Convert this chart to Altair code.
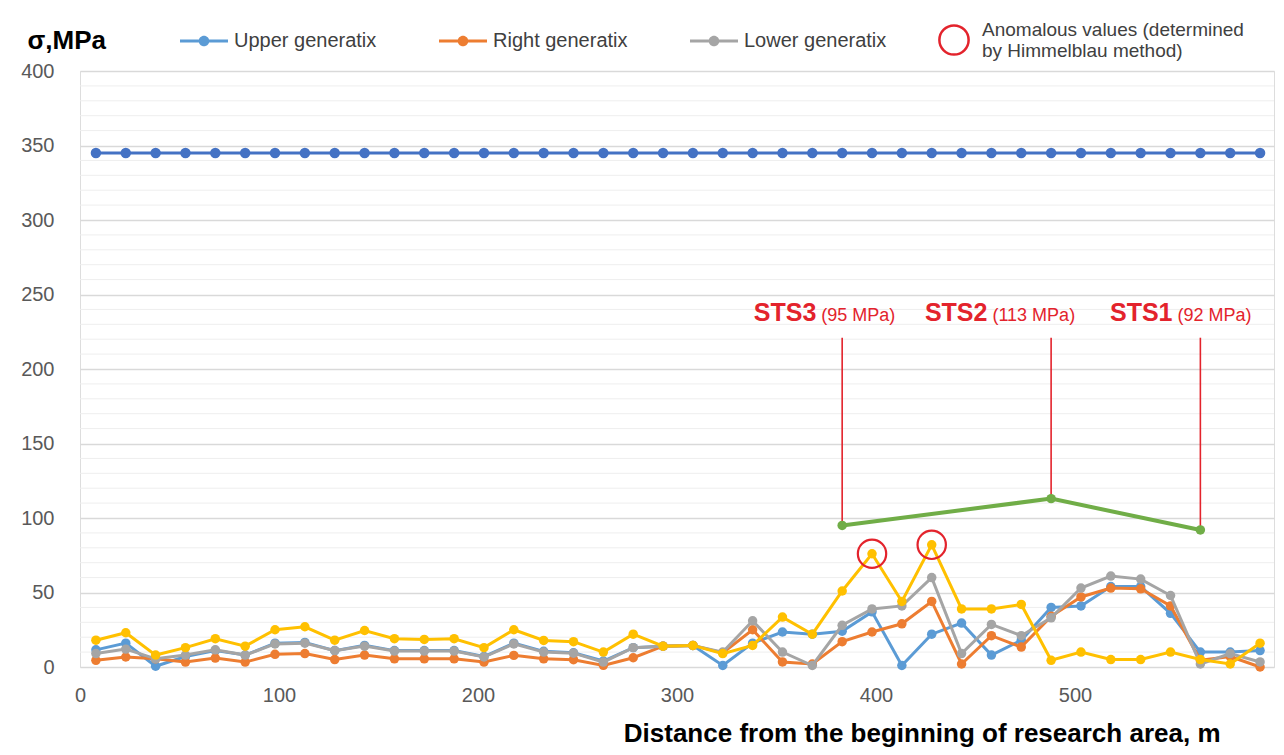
import altair as alt
import pandas as pd

FONT = "Liberation Sans"
RED = "#E3232C"

# ---------------- data ----------------
distance = [8, 23, 38, 53, 68, 83, 98, 113, 128, 143, 158, 173, 188, 203, 218, 233,
            248, 263, 278, 293, 308, 323, 338, 353, 368, 383, 398, 413, 428, 443,
            458, 473, 488, 503, 518, 533, 548, 563, 578, 593]

upper_generatix = [11.5, 16, 0.5, 7, 11, 8, 16, 16.5, 11, 14.5, 11, 11, 11, 7, 16, 10.5,
                   9.5, 4, 13, 14, 14.5, 1, 16, 23.5, 22, 24, 37, 1, 22, 29.5,
                   8, 18, 40, 41, 54, 54, 36, 10, 10, 11]
right_generatix = [4.5, 6.7, 5.5, 3.3, 6, 3.3, 8.5, 9, 5, 8, 5.5, 5.5, 5.5, 3.3, 7.8, 5.5,
                   4.9, 1.1, 6.2, 14, 14.5, 9.5, 25, 3.4, 2, 17, 23.5, 29, 44, 2,
                   21, 13.4, 34, 47, 53, 52.5, 41, 4.5, 7, 0]
lower_generatix = [9, 12, 5.5, 8, 11.5, 8, 15.5, 16, 11, 14, 10.7, 10.7, 10.7, 6.7, 15.5, 10,
                   9.3, 3.3, 13, 14, 14.5, 10, 31, 10, 1, 28, 39, 41, 60, 9,
                   28.6, 21, 33, 53, 61, 59, 48, 2, 9, 3.4]
series_4 = [18, 23, 8, 13, 19, 14, 25, 27, 18, 24.5, 19, 18.5, 19, 13, 25, 17.8,
            17, 10, 22, 14, 14.5, 9, 14.5, 33.5, 22, 51, 76, 44, 82, 39,
            39, 42, 4.5, 10, 5, 5, 10, 5, 2, 16]
series_5 = [345, 345, 345, 345, 345, 345, 345, 345, 345, 345, 345, 345, 345, 345, 345, 345,
            345, 345, 345, 345, 345, 345, 345, 345, 345, 345, 345, 345, 345, 345,
            345, 345, 345, 345, 345, 345, 345, 345, 345, 345]

series_names = ["Upper generatix", "Right generatix", "Lower generatix", "Series 4", "Series 5"]
series_colors = ["#5B9BD5", "#ED7D31", "#A5A5A5", "#FFC000", "#4472C4"]
legend_names = ["Upper generatix", "Right generatix", "Lower generatix"]

sts_labels = ["STS3", "STS2", "STS1"]
sts_notes = ["(95 MPa)", "(113 MPa)", "(92 MPa)"]
sts_distance = [383, 488, 563]
sts_stress = [95, 113, 92]
sts_label_distance = [371, 457, 550]
sts_label_level = [232, 232, 232]
sts_rule_top = [221, 221, 221]

anomaly_distance = [398, 428]
anomaly_stress = [76, 82]
anomaly_kind = ["Anomalous", "Anomalous"]

x_ticks = [0, 100, 200, 300, 400, 500]
y_ticks = [0, 50, 100, 150, 200, 250, 300, 350, 400]
y_minor = [v for v in range(10, 400, 10) if v % 50 != 0]

# ---------------- tables ----------------
frames = []
for name, vals in zip(series_names,
                      [upper_generatix, right_generatix, lower_generatix, series_4, series_5]):
    frames.append(pd.DataFrame({"distance": distance, "stress": vals, "series": name}))
df = pd.concat(frames, ignore_index=True)

sts_df = pd.DataFrame({
    "distance": sts_distance, "stress": sts_stress, "top": sts_rule_top,
    "label": sts_labels, "note": sts_notes,
    "label_x": sts_label_distance, "label_y": sts_label_level,
})
anom_df = pd.DataFrame({"distance": anomaly_distance, "stress": anomaly_stress, "kind": anomaly_kind})
minor_df = pd.DataFrame({"g": y_minor})

# ---------------- scales / axes ----------------
x_scale = alt.Scale(domain=[0, 600], nice=False, zero=True)
y_scale = alt.Scale(domain=[0, 400], nice=False)

x_axis = alt.Axis(values=x_ticks, grid=False, domain=False, ticks=False, labelFlush=False,
                  labelFontSize=20, labelColor="#595959", labelFont=FONT, labelPadding=18,
                  title="Distance from the beginning of research area, m",
                  titleFont=FONT, titleFontSize=26, titleFontWeight="bold", titleColor="#000000",
                  titleAlign="right", titleBaseline="alphabetic", titleX=1140, titleY=74)
y_axis = alt.Axis(values=y_ticks, grid=True, gridColor="#D9D9D9", gridWidth=1.3,
                  domain=False, ticks=False,
                  labelFontSize=20, labelColor="#595959", labelFont=FONT, labelPadding=26,
                  title="σ,MPa", titleAngle=0, titleAlign="left", titleBaseline="middle",
                  titleX=-53, titleY=-31, titleFont=FONT, titleFontSize=26,
                  titleFontWeight="bold", titleColor="#000000")


def X(field="distance"):
    return alt.X(f"{field}:Q", scale=x_scale, axis=x_axis)


def Y(field="stress"):
    return alt.Y(f"{field}:Q", scale=y_scale, axis=y_axis)


color_scale = alt.Scale(domain=series_names, range=series_colors)

SYMBOL = ("M-1,-0.0625H1V0.0625H-1Z "
          "M0.22,0A0.22,0.22,0,1,1,-0.22,0A0.22,0.22,0,1,1,0.22,0Z")
series_legend = alt.Legend(
    title=None, orient="none", legendX=100, legendY=-54, direction="horizontal",
    values=legend_names, symbolType=SYMBOL, symbolSize=2304, symbolStrokeWidth=0,
    symbolOpacity=1, labelFont=FONT, labelFontSize=20, labelColor="#404040",
    labelOffset=6, columnPadding=62, padding=0, labelLimit=400,
)
anom_legend = alt.Legend(
    title=None, orient="none", legendX=858, legendY=-47, padding=0,
    symbolSize=855, symbolStrokeColor=RED, symbolFillColor="white", symbolStrokeWidth=2.5,
    symbolOpacity=1, labelFont=FONT, labelFontSize=19, labelColor="#404040", labelOffset=12,
    labelLimit=600, labelBaseline="bottom",
    labelExpr="['Anomalous values (determined', 'by Himmelblau method)']",
)

# ---------------- layers ----------------
layers = []
layers.append(
    alt.Chart(minor_df).mark_rule(color="#EEEEEE", strokeWidth=1).encode(y=Y("g"))
)

for name, col in zip(series_names, series_colors):
    sub = df[df["series"] == name]
    base = alt.Chart(sub)
    layers.append(base.mark_line(strokeWidth=3, color=col).encode(x=X(), y=Y()))
    layers.append(base.mark_point(filled=True, opacity=1,
                                  size=110 if name == "Series 5" else 90).encode(
        x=X(), y=Y(), color=alt.Color("series:N", scale=color_scale, legend=series_legend)))

layers.append(alt.Chart(sts_df).mark_rule(color=RED, strokeWidth=1.6).encode(
    x=X(), y=Y("top"), y2="stress:Q"))
layers.append(alt.Chart(sts_df).mark_line(color="#70AD47", strokeWidth=4).encode(x=X(), y=Y()))
layers.append(alt.Chart(sts_df).mark_point(filled=True, opacity=1, color="#70AD47", size=90).encode(
    x=X(), y=Y()))

layers.append(alt.Chart(anom_df).mark_point(filled=False, color=RED, strokeWidth=2.2,
                                            size=804, opacity=1).encode(
    x=X(), y=Y(),
    shape=alt.Shape("kind:N", scale=alt.Scale(range=["circle"]), legend=anom_legend)))

layers.append(alt.Chart(sts_df).mark_text(align="right", baseline="alphabetic", dx=-2,
                                          font=FONT, fontSize=25, fontWeight="bold",
                                          color=RED).encode(
    x=X("label_x"), y=Y("label_y"), text="label:N"))
layers.append(alt.Chart(sts_df).mark_text(align="left", baseline="alphabetic", dx=3,
                                          font=FONT, fontSize=18, color=RED).encode(
    x=X("label_x"), y=Y("label_y"), text="note:N"))

chart = alt.layer(*layers).properties(
    width=1194, height=596,
    autosize=alt.AutoSizeParams(type="none"),
    padding={"left": 72, "top": 63, "right": 2, "bottom": 80},
    background="white",
).configure_view(stroke=None).configure(font=FONT)

chart.save("out.html", embed_options={"renderer": "svg", "actions": False})
